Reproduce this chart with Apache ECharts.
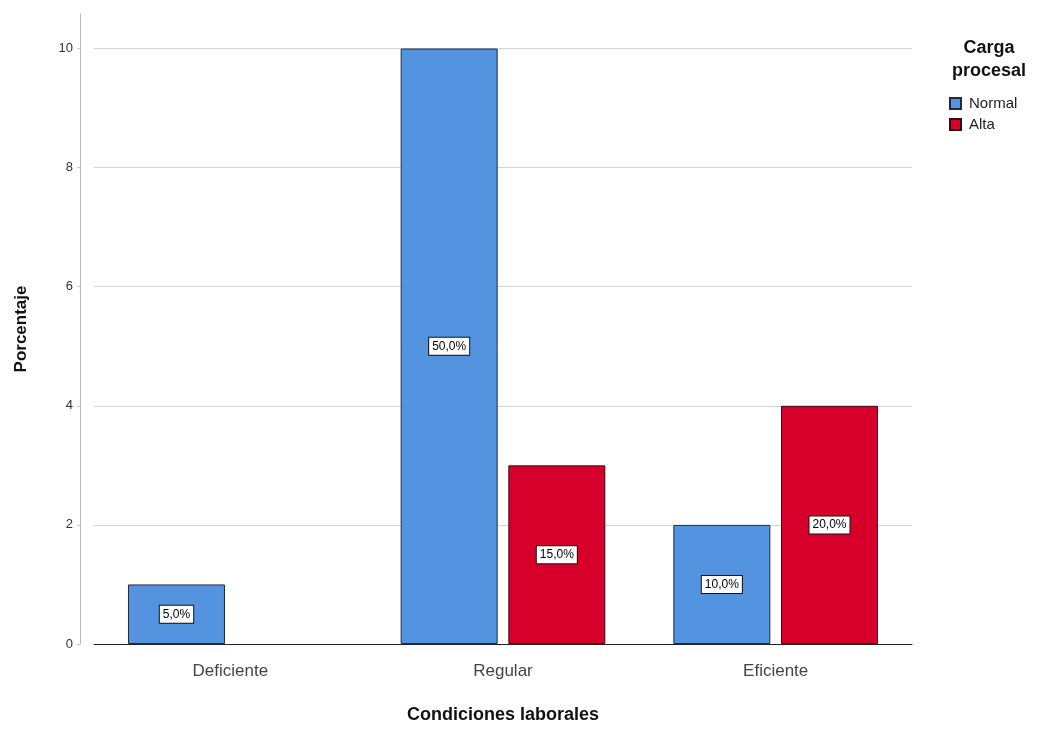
<!DOCTYPE html>
<html>
<head>
<meta charset="utf-8">
<script src="https://cdn.jsdelivr.net/npm/echarts@6/dist/echarts.min.js"></script>
<style>html,body{margin:0;padding:0;background:#fff;}#c{width:1037px;height:729px;}</style>
</head>
<body>
<div id="c"></div>
<script>
const categories = ['Deficiente', 'Regular', 'Eficiente'];
const normalValues = [1, 10, 2];
const altaValues = [0, 3, 4];
const normalLabels = ['5,0%', '50,0%', '10,0%'];
const altaLabels = ['', '15,0%', '20,0%'];
const yTicks = [0, 2, 4, 6, 8, 10];

function buildData(values, labels) {
  return values.map((v, i) => {
    if (v === 0) return { value: v, label: { show: false }, itemStyle: { borderWidth: 0 } };
    return { value: v, labelText: labels[i] };
  });
}

const labelStyle = {
  show: true,
  position: 'inside',
  color: '#000',
  fontFamily: 'Liberation Sans, Arial, sans-serif',
  fontSize: 12,
  backgroundColor: '#fff',
  borderColor: '#111',
  borderWidth: 1,
  padding: [3, 3, 2, 3],
  formatter: p => p.data.labelText || ''
};

const chart = echarts.init(document.getElementById('c'), null, { renderer: 'canvas' });
chart.setOption({
  animation: false,
  backgroundColor: '#fff',
  title: {
    text: 'Carga\nprocesal',
    left: 984,
    top: 32,
    textAlign: 'center',
    textStyle: { fontFamily: 'Liberation Sans, Arial, sans-serif', fontSize: 18, fontWeight: 'bold', color: '#111', lineHeight: 23 }
  },
  legend: {
    orient: 'vertical',
    left: 944,
    top: 91,
    itemWidth: 11,
    itemHeight: 11,
    itemGap: 6,
    icon: 'rect',
    textStyle: { fontFamily: 'Liberation Sans, Arial, sans-serif', fontSize: 15, lineHeight: 15, color: '#222', padding: [0, 0, 0, 3] },
    data: ['Normal', 'Alta']
  },
  grid: { left: 94, right: 125, top: 14, bottom: 82 },
  xAxis: {
    type: 'category',
    data: categories,
    axisLine: { show: true, lineStyle: { color: '#222', width: 1 } },
    axisTick: { show: false },
    axisLabel: { color: '#444', fontFamily: 'Liberation Sans, Arial, sans-serif', fontSize: 17, margin: 19 },
    name: 'Condiciones laborales',
    nameLocation: 'middle',
    nameGap: 62,
    nameTextStyle: { fontFamily: 'Liberation Sans, Arial, sans-serif', fontSize: 18, fontWeight: 'bold', color: '#111', verticalAlign: 'top' }
  },
  yAxis: {
    type: 'value',
    min: 0,
    max: 10.58,
    interval: 2,
    offset: 14,
    axisLine: { show: true, lineStyle: { color: '#bbb', width: 1 } },
    axisTick: { show: true, length: 3, lineStyle: { color: '#ccc' } },
    axisLabel: { color: '#333', fontFamily: 'Liberation Sans, Arial, sans-serif', fontSize: 13, margin: 7, showMaxLabel: false,
      formatter: v => (yTicks.indexOf(v) >= 0 ? String(v) : '') },
    splitLine: { show: true, showMaxLine: false, lineStyle: { color: '#d4d4d4', width: 1 } },
    name: 'Porcentaje',
    nameLocation: 'middle',
    nameGap: 50,
    nameTextStyle: { fontFamily: 'Liberation Sans, Arial, sans-serif', fontSize: 17, fontWeight: 'bold', color: '#111' }
  },
  series: [
    {
      name: 'Normal',
      type: 'bar',
      barWidth: 97,
      barGap: '11%',
      data: buildData(normalValues, normalLabels),
      itemStyle: { color: '#5393E0', borderColor: '#1d2b44', borderWidth: 1 },
      label: labelStyle
    },
    {
      name: 'Alta',
      type: 'bar',
      barWidth: 97,
      barGap: '11%',
      data: buildData(altaValues, altaLabels),
      itemStyle: { color: '#D6002B', borderColor: '#3a0a10', borderWidth: 1 },
      label: labelStyle
    }
  ]
});
</script>
</body>
</html>
